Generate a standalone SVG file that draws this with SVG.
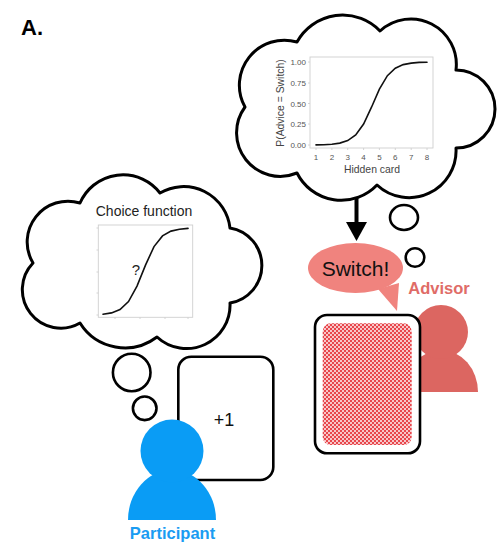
<svg xmlns="http://www.w3.org/2000/svg" width="497" height="546" viewBox="0 0 497 546">
  <style>
    text { font-family: "Liberation Sans", Arial, Helvetica, sans-serif; }
    .cloud { fill: #fff; stroke: #000; stroke-width: 3; stroke-linejoin: round; }
    .bubble { fill: #fff; stroke: #000; stroke-width: 2.6; }
    .frame { fill: none; stroke: #cfcfcf; stroke-width: 0.9; }
    .tick { stroke: #cfcfcf; stroke-width: 0.9; }
    .curve { fill: none; stroke: #111; stroke-width: 1.6; stroke-linecap: round; }
    .ticklabel { font-size: 8px; fill: #555; }
    .axis { font-size: 10.4px; fill: #444; }
    .card { fill: #fff; stroke: #000; stroke-width: 2.6; }
  </style>
  <defs>
    <pattern id="checks" width="4" height="4" patternUnits="userSpaceOnUse">
      <rect width="4" height="4" fill="#E8464C"/>
      <circle cx="1" cy="1" r="0.95" fill="#fff"/>
      <circle cx="3" cy="3" r="0.95" fill="#fff"/>
    </pattern>
  </defs>

  <rect width="497" height="546" fill="#fff"/>

  <!-- panel label -->
  <text x="21" y="35" font-size="22" font-weight="bold" fill="#000">A.</text>

  <!-- advisor's thought: the advice curve -->
  <g id="advisor-thought">
    <path class="cloud" d="M 245 107 A 45 45 0 0 1 297 42 A 52 52 0 0 1 380 31 A 45.5 45.5 0 0 1 456 70 A 39 39 0 0 1 456 148 A 47 47 0 0 1 377 185 A 49.5 49.5 0 0 1 297 173 A 43.6 43.6 0 0 1 245 107 Z"/>
    <rect class="frame" x="310" y="57" width="123" height="91"/>
    <g class="tick">
      <line x1="308" y1="62" x2="310" y2="62"/>
      <line x1="308" y1="83" x2="310" y2="83"/>
      <line x1="308" y1="103.5" x2="310" y2="103.5"/>
      <line x1="308" y1="124" x2="310" y2="124"/>
      <line x1="308" y1="145" x2="310" y2="145"/>
      <line x1="316" y1="148" x2="316" y2="150"/>
      <line x1="331.9" y1="148" x2="331.9" y2="150"/>
      <line x1="347.7" y1="148" x2="347.7" y2="150"/>
      <line x1="363.6" y1="148" x2="363.6" y2="150"/>
      <line x1="379.4" y1="148" x2="379.4" y2="150"/>
      <line x1="395.3" y1="148" x2="395.3" y2="150"/>
      <line x1="411.2" y1="148" x2="411.2" y2="150"/>
      <line x1="427" y1="148" x2="427" y2="150"/>
    </g>
    <g class="ticklabel" text-anchor="end">
      <text x="306" y="65">1.00</text>
      <text x="306" y="86">0.75</text>
      <text x="306" y="106.5">0.50</text>
      <text x="306" y="127">0.25</text>
      <text x="306" y="148">0.00</text>
    </g>
    <g class="ticklabel" text-anchor="middle">
      <text x="316" y="160">1</text>
      <text x="331.9" y="160">2</text>
      <text x="347.7" y="160">3</text>
      <text x="363.6" y="160">4</text>
      <text x="379.4" y="160">5</text>
      <text x="395.3" y="160">6</text>
      <text x="411.2" y="160">7</text>
      <text x="427" y="160">8</text>
    </g>
    <text class="axis" x="372" y="173" text-anchor="middle">Hidden card</text>
    <text class="axis" transform="translate(284 103) rotate(-90)" text-anchor="middle">P(Advice = Switch)</text>
    <path class="curve" d="M 316 144.9 L 323.9 144.7 L 331.9 144.2 L 339.8 143.1 L 347.7 140.6 L 355.7 135 L 363.6 124 L 371.5 107.2 L 379.4 89.2 L 387.4 75.7 L 395.3 68.2 L 403.2 64.6 L 411.2 63.1 L 419.1 62.4 L 427 62.2"/>
    <ellipse class="bubble" cx="404" cy="217.5" rx="14" ry="12.5"/>
    <circle class="bubble" cx="415" cy="257.5" r="9.3"/>
  </g>

  <!-- participant's thought: the unknown choice function -->
  <g id="participant-thought">
    <path class="cloud" d="M 80 203 A 46.8 46.8 0 0 1 160 193 A 46.7 46.7 0 0 1 230 228 A 38 38 0 0 1 230 303 A 43.5 43.5 0 0 1 157 337 A 53 53 0 0 1 80 323 A 38.5 38.5 0 0 1 33 263 A 40.8 40.8 0 0 1 80 203 Z"/>
    <text x="144" y="216" font-size="14" fill="#222" text-anchor="middle">Choice function</text>
    <rect class="frame" x="98.3" y="225" width="94.4" height="92.3"/>
    <g class="tick">
      <line x1="96.5" y1="228" x2="98.3" y2="228"/>
      <line x1="96.5" y1="250" x2="98.3" y2="250"/>
      <line x1="96.5" y1="272" x2="98.3" y2="272"/>
      <line x1="96.5" y1="293" x2="98.3" y2="293"/>
      <line x1="96.5" y1="315" x2="98.3" y2="315"/>
      <line x1="115" y1="317.3" x2="115" y2="319"/>
      <line x1="140" y1="317.3" x2="140" y2="319"/>
      <line x1="165" y1="317.3" x2="165" y2="319"/>
      <line x1="188" y1="317.3" x2="188" y2="319"/>
    </g>
    <path class="curve" d="M 103 314.2 L 111.5 312.9 L 120 309.5 L 128.5 301.6 L 137 286.1 L 145.5 265.1 L 154 246.6 L 162.5 235.9 L 171 231.1 L 179.5 229.2 L 188 228.4"/>
    <text x="136" y="275" font-size="15" fill="#222" text-anchor="middle">?</text>
    <circle class="bubble" cx="131.7" cy="372.5" r="18.8"/>
    <circle class="bubble" cx="144.7" cy="408.3" r="11.8"/>
  </g>

  <!-- advisor speaks the advice -->
  <g id="advice-bubble">
    <path fill="#F0837E" d="M 378 289 L 397 311 L 399 283 Z"/>
    <ellipse cx="355.5" cy="268" rx="47.5" ry="25" fill="#F0837E"/>
    <text x="355.5" y="275.5" font-size="21" fill="#111" text-anchor="middle">Switch!</text>
  </g>

  <!-- advisor -->
  <g id="advisor">
    <path d="M 404 392 A 37 42 0 0 1 478 392 Z" fill="#DC6661"/>
    <circle cx="441" cy="332" r="27" fill="#DC6661"/>
    <text x="439" y="294" font-size="16.5" font-weight="bold" fill="#E06C67" text-anchor="middle">Advisor</text>
  </g>

  <!-- hidden card, face down -->
  <g id="hidden-card">
    <rect class="card" x="315" y="315" width="105" height="138.3" rx="12"/>
    <rect x="322.7" y="323.3" width="89" height="121.7" rx="8" fill="url(#checks)"/>
  </g>

  <!-- participant's card -->
  <g id="participant-card">
    <rect class="card" x="178.3" y="356.7" width="95" height="123.3" rx="13"/>
    <text x="224" y="426" font-size="18" fill="#111" text-anchor="middle">+1</text>
  </g>

  <!-- participant -->
  <g id="participant">
    <path d="M 128 520 A 44 50 0 0 1 216 520 Z" fill="#0A9CF5"/>
    <circle cx="172" cy="451" r="31.5" fill="#0A9CF5"/>
    <text x="172.5" y="539" font-size="16.5" font-weight="bold" fill="#1A9CF2" text-anchor="middle">Participant</text>
  </g>

  <!-- thought leads to advice -->
  <g id="connectors">
    <line x1="356.5" y1="197" x2="356.5" y2="224" stroke="#000" stroke-width="4"/>
    <polygon points="346,222 367,222 356.5,241" fill="#000"/>
  </g>
</svg>
